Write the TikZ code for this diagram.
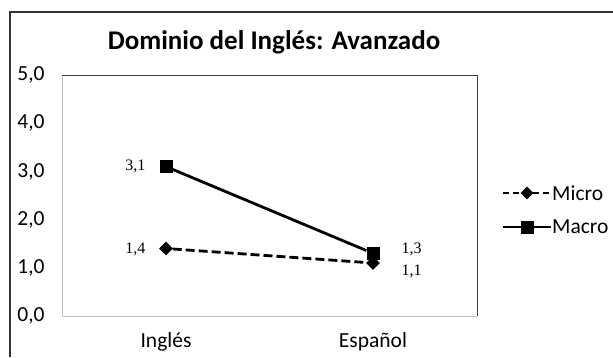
\documentclass[tikz,border=0pt]{standalone}
\usepackage{fontspec}
\setmainfont{Carlito}
\newfontfamily\valfont{Liberation Serif}
\usetikzlibrary{shapes.geometric}
\tikzset{
	sqmark/.style={rectangle, fill=black, inner sep=0pt, minimum size=13pt},
	diamark/.style={diamond, fill=black, inner sep=0pt, minimum width=14pt, minimum height=14pt},
	macroline/.style={line width=2.8pt},
	microline/.style={line width=2.8pt, dash pattern=on 9pt off 4pt},
	vallabel/.style={font=\valfont\fontsize{16}{19}\selectfont},
	ticklabel/.style={font=\fontsize{21.5}{25}\selectfont},
}
\begin{document}
\begin{tikzpicture}[x=1pt, y=-1pt]
	\useasboundingbox (0,0) rectangle (613,357);
	\fill [white] (0,0) rectangle (613,357);
	\draw [line width=1.3pt, black!80] (10,357) -- (10,12) -- (613,12);
	% plot area
	\draw [line width=1pt, black!25] (62,75) -- (62,316) -- (477,316);
	\draw [line width=1pt, black!75] (62,75) -- (477,75) -- (477,316);
	\node (title) at (274,42) {\fontsize{27}{32}\selectfont\bfseries Dominio del Inglés: Avanzado};
	\foreach \v in {0,...,5}
		\node [ticklabel] (tick\v) at (31,{316-\v*48.2}) {\v,0};
	\node [ticklabel] (catA) at (166,342) {Inglés};
	\node [ticklabel] (catB) at (373,342) {Español};
	% series
	\node [diamark] (mic1) at (166,248.5) {};
	\node [diamark] (mic2) at (373,263) {};
	\node [sqmark] (mac1) at (166,166.6) {};
	\node [sqmark] (mac2) at (373,253.3) {};
	\draw [microline] (mic1) -- (mic2);
	\draw [macroline] (mac1) -- (mac2);
	\node [vallabel, left] (lmac1) at (149,166) {3,1};
	\node [vallabel, left] (lmic1) at (149,249) {1,4};
	\node [vallabel, right] (lmac2) at (398,249) {1,3};
	\node [vallabel, right] (lmic2) at (398,271) {1,1};
	% legend
	\coordinate (legA0) at (503,193);
	\coordinate (legA1) at (551,193);
	\coordinate (legB0) at (503,227);
	\coordinate (legB1) at (551,227);
	\draw [line width=2.8pt, dash pattern=on 6pt off 4pt] (legA0) -- (legA1) node [midway, diamark] (legAm) {};
	\draw [macroline] (legB0) -- (legB1) node [midway, sqmark] (legBm) {};
	\node [ticklabel, right, inner sep=1pt] (legAt) at (legA1) {Micro};
	\node [ticklabel, right, inner sep=1pt] (legBt) at (legB1) {Macro};
\end{tikzpicture}
\end{document}
